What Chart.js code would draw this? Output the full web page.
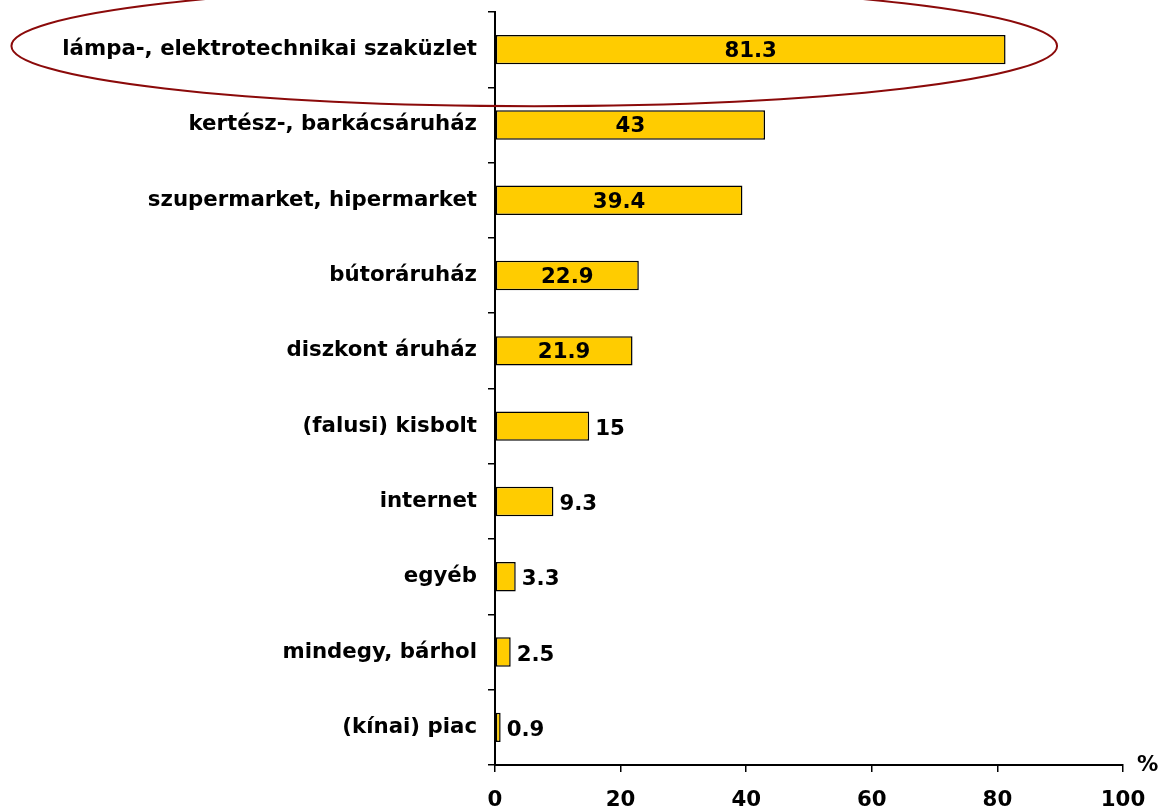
<!DOCTYPE html>
<html>
<head>
<meta charset="utf-8">
<script src="https://cdn.jsdelivr.net/npm/chart.js@4/dist/chart.umd.min.js"></script>
<style>
  body { margin: 0; background: #fff; }
  #wrap { width: 1167px; height: 811px; position: relative; }
</style>
</head>
<body>
<div id="wrap"><canvas id="myChart"></canvas></div>
<script>
const categories = [
    'lámpa-, elektrotechnikai szaküzlet',
    'kertész-, barkácsáruház',
    'szupermarket, hipermarket',
    'bútoráruház',
    'diszkont áruház',
    '(falusi) kisbolt',
    'internet',
    'egyéb',
    'mindegy, bárhol',
    '(kínai) piac'
];
const values = [81.3, 43, 39.4, 22.9, 21.9, 15, 9.3, 3.3, 2.5, 0.9];
const xTicks = [0, 20, 40, 60, 80, 100];
const axisTitle = '%';

const fontFamily = '"DejaVu Sans", Verdana, sans-serif';
const fontSize = 21.3;

// value labels: inside the bar when it is long enough, otherwise right of it
var valueLabels = {
    id: 'valueLabels',
    afterDatasetsDraw: function(chart) {
        var ctx = chart.ctx;
        var meta = chart.getDatasetMeta(0);
        ctx.save();
        ctx.font = 'bold ' + fontSize + 'px ' + fontFamily;
        ctx.fillStyle = '#000';
        ctx.textBaseline = 'middle';
        meta.data.forEach(function(bar, i) {
            var v = values[i];
            if (v > 20) {
                ctx.textAlign = 'center';
                ctx.fillText(String(v), (bar.x + bar.base) / 2, bar.y + 2);
            } else {
                ctx.textAlign = 'left';
                ctx.fillText(String(v), bar.x + 6, bar.y + 3);
            }
        });
        ctx.restore();
    },
    afterDraw: function(chart) {
        var ctx = chart.ctx;
        var x = chart.scales.x;
        var y = chart.scales.y;
        // highlight ring round the first category
        var left = x.getPixelForValue(-77);
        var right = x.getPixelForValue(89.5);
        var band = y.getPixelForValue(1) - y.getPixelForValue(0);
        var cy = y.getPixelForValue(0) - band * 0.05;
        ctx.save();
        ctx.strokeStyle = '#8B0A0A';
        ctx.lineWidth = 2;
        ctx.beginPath();
        ctx.ellipse((left + right) / 2, cy, (right - left) / 2, band * 0.8, 0, 0, Math.PI * 2);
        ctx.stroke();
        // axis unit
        ctx.font = 'bold ' + fontSize + 'px ' + fontFamily;
        ctx.fillStyle = '#000';
        ctx.textAlign = 'left';
        ctx.textBaseline = 'middle';
        ctx.fillText(axisTitle, x.right + 14, x.top);
        ctx.restore();
    }
};

new Chart(document.getElementById('myChart'), {
    type: 'bar',
    data: {
        labels: categories,
        datasets: [{
            data: values,
            backgroundColor: '#FFCC00',
            borderColor: '#000',
            borderWidth: 1.5,
            borderSkipped: false,
            barPercentage: 0.39,
            categoryPercentage: 1
        }]
    },
    options: {
        indexAxis: 'y',
        responsive: true,
        maintainAspectRatio: false,
        animation: false,
        layout: { padding: { top: 12, right: 44, left: 0, bottom: 0 } },
        plugins: {
            legend: { display: false },
            tooltip: { enabled: false }
        },
        scales: {
            x: {
                min: xTicks[0],
                max: xTicks[xTicks.length - 1],
                afterBuildTicks: function(scale) {
                    scale.ticks = xTicks.map(v => ({ value: v }));
                },
                afterFit: function(scale) { scale.height = 46; },
                border: { display: true, color: '#000', width: 2 },
                grid: { drawOnChartArea: false, drawTicks: true, tickLength: 7, color: '#000', lineWidth: 1.5 },
                ticks: {
                    color: '#000',
                    padding: 16,
                    maxRotation: 0,
                    font: { family: fontFamily, size: fontSize, weight: 'bold' }
                }
            },
            y: {
                offset: true,
                afterFit: function(scale) {
                    scale.width = 495;
                    scale.paddingTop = 0;
                    scale.paddingBottom = 0;
                },
                border: { display: true, color: '#000', width: 2 },
                grid: { offset: true, drawOnChartArea: false, drawTicks: true, tickLength: 7, color: '#000', lineWidth: 1.5 },
                ticks: {
                    color: '#000',
                    padding: 11,
                    font: { family: fontFamily, size: fontSize, weight: 'bold' }
                }
            }
        }
    },
    plugins: [valueLabels]
});
</script>
</body>
</html>
